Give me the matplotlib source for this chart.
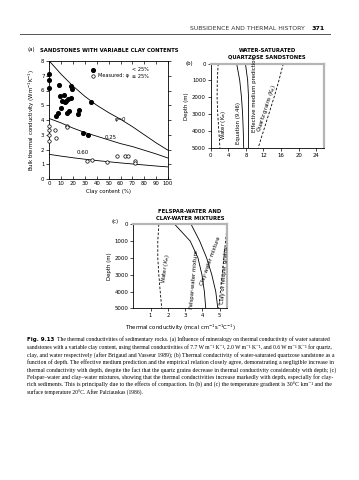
import numpy as np
import matplotlib.pyplot as plt

plt.rcParams['font.family'] = ['DejaVu Sans']

# --- (a) sandstones with variable clay content ---
clay_pct = [0, 10, 20, 30, 40, 50, 60, 70, 80, 90, 100]
k_phi0 = [8.0, 7.1, 6.3, 5.6, 5.0, 4.5, 4.05, 3.55, 3.0, 2.45, 1.95]
k_phi25 = [4.1, 3.8, 3.45, 3.15, 2.9, 2.65, 2.4, 2.2, 1.95, 1.7, 1.42]
k_phi60 = [1.67, 1.55, 1.44, 1.34, 1.25, 1.17, 1.09, 1.02, 0.95, 0.88, 0.82]

filled_x = [0, 0, 0, 8, 9, 11, 10, 14, 16, 18, 19, 6, 7, 12, 13, 15, 18, 17, 25, 24, 35, 28, 33]
filled_y = [7.1, 6.7, 6.2, 6.4, 5.6, 5.3, 4.8, 5.3, 5.4, 6.3, 6.1, 4.3, 4.5, 5.7, 5.2, 4.5, 5.5, 4.6, 4.7, 4.4, 5.2, 3.15, 2.95]
open_x = [0, 0, 0, 0, 5, 6, 15, 15, 32, 36, 49, 57, 64, 66, 72, 72]
open_y = [3.6, 3.3, 3.0, 2.55, 3.35, 2.8, 3.62, 3.5, 1.22, 1.27, 1.17, 1.55, 1.55, 1.55, 1.22, 1.1]

# --- (b) water-saturated quartzose sandstones ---
depth_b = [0, 1000, 2000, 3000, 4000, 5000]
kb_water = [1.7, 1.5, 1.45, 1.6, 1.85, 2.1]
kb_equation = [5.9, 6.6, 7.0, 7.25, 7.4, 7.5]
kb_effective = [7.9, 8.4, 8.6, 8.6, 8.6, 8.6]
kb_quartz = [16.5, 15.5, 14.4, 13.2, 12.0, 10.8]

# --- (c) felspar-water and clay-water mixtures ---
depth_c = [0, 1000, 2000, 3000, 4000, 5000]
kc_water = [1.48, 1.42, 1.42, 1.48, 1.56, 1.65]
kc_felspar = [2.4, 3.3, 3.75, 3.98, 4.12, 4.2]
kc_clay = [3.35, 3.85, 4.25, 4.55, 4.78, 4.9]
kc_grains = [5.45, 5.35, 5.25, 5.15, 5.05, 4.95]

W, H = 359, 480
fig = plt.figure(figsize=(W / 100, H / 100), dpi=100)

def box(l, r, t, b):
    return [l / W, 1 - b / H, (r - l) / W, (b - t) / H]

fs = 3.9
gray = '#b5b5b5'

# page header
fig.text(305 / W, 1 - 28 / H, 'SUBSIDENCE AND THERMAL HISTORY', ha='right', va='center',
         fontsize=4.4, color='#333333')
fig.text(325 / W, 1 - 28 / H, '371', ha='right', va='center', fontsize=4.6, fontweight='bold')
fig.add_artist(plt.Line2D([20 / W, 330 / W], [1 - 33.5 / H] * 2, color='#555555', lw=0.7))

# ---------- panel (a) ----------
ax = fig.add_axes(box(49.3, 168, 61, 179))
ax.plot(clay_pct, k_phi0, color='k', lw=0.6)
ax.plot(clay_pct, k_phi25, color='k', lw=0.6)
ax.plot(clay_pct, k_phi60, color='k', lw=0.6)
ax.scatter(filled_x, filled_y, s=7, color='k', zorder=3, clip_on=False)
ax.scatter(open_x, open_y, s=6, facecolor='white', edgecolor='k', lw=0.5, zorder=3, clip_on=False)
ax.scatter([37], [7.4], s=7, color='k', clip_on=False)
ax.scatter([37], [7.0], s=6, facecolor='white', edgecolor='k', lw=0.5, clip_on=False)
ax.text(41, 7.05, 'Measured: \u03c6', fontsize=3.6, va='center')
ax.text(70, 7.4, '< 25%', fontsize=3.6, va='center')
ax.text(70, 6.95, '\u2265 25%', fontsize=3.6, va='center')
ax.text(55, 4.0, '\u03c6=0', fontsize=fs, va='center')
ax.text(47, 2.8, '0.25', fontsize=fs, va='center')
ax.text(23, 1.78, '0.60', fontsize=fs, va='center')
ax.set_xlim(0, 100)
ax.set_ylim(0, 8)
ax.set_xticks(range(0, 101, 10))
ax.set_yticks(range(0, 9))
ax.tick_params(labelsize=fs, length=2, width=0.5, pad=1.5, top=True, right=True, direction='in')
ax.tick_params(axis='y', direction='out')
for s in ax.spines.values():
    s.set_linewidth(0.6)
ax.set_xlabel('Clay content (%)', fontsize=fs, labelpad=2)
ax.set_ylabel('Bulk thermal conductivity (Wm$^{-1}$K$^{-1}$)', fontsize=fs, labelpad=3)
fig.text(27 / W, 1 - 50 / H, '(a)', fontsize=fs, va='center')
fig.text(40 / W, 1 - 50 / H, 'SANDSTONES WITH VARIABLE CLAY CONTENTS', fontsize=3.75,
         fontweight='bold', va='center')

def depth_axes(ax, xmax, xticks):
    ax.set_xlim(0, xmax)
    ax.set_ylim(5000, 0)
    ax.set_xticks(xticks)
    ax.set_yticks(range(0, 5001, 1000))
    ax.tick_params(labelsize=fs, length=2, width=0.5, pad=1.5)
    ax.spines['left'].set_linewidth(0.6)
    ax.spines['bottom'].set_linewidth(0.6)
    for side in ('top', 'right'):
        ax.spines[side].set_color(gray)
        ax.spines[side].set_linewidth(1.6)
    ax.set_ylabel('Depth (m)', fontsize=fs, labelpad=2)

# ---------- panel (b) ----------
bx = fig.add_axes(box(210.7, 324, 63.7, 147.7))
bx.plot(kb_water, depth_b, 'k--', lw=0.6, dashes=(3, 2))
bx.plot(kb_equation, depth_b, 'k-', lw=0.6)
bx.plot(kb_effective, depth_b, 'k-', lw=0.6)
bx.plot(kb_quartz, depth_b, 'k--', lw=0.6, dashes=(3, 2))
depth_axes(bx, 25.75, range(0, 25, 4))
bx.text(2.8, 3650, 'Water (K$_w$)', rotation=90, fontsize=fs, ha='center', va='center')
bx.text(6.3, 3540, 'Equation (9.46)', rotation=90, fontsize=fs, ha='center', va='center')
bx.text(9.9, 1800, 'Effective medium prediction', rotation=90, fontsize=fs, ha='center', va='center')
bx.text(12.9, 2700, 'Quartz grains (K$_q$)', rotation=72, fontsize=fs, ha='center', va='center')
fig.text(185 / W, 1 - 63 / H, '(b)', fontsize=fs, va='center')
fig.text(267 / W, 1 - 54 / H, 'WATER-SATURATED\nQUARTZOSE SANDSTONES', fontsize=3.75,
         fontweight='bold', ha='center', va='center', linespacing=1.3)

# ---------- panel (c) ----------
cx = fig.add_axes(box(133.3, 227.3, 224.3, 308.3))
cx.plot(kc_water, depth_c, 'k--', lw=0.6, dashes=(3, 2))
cx.plot(kc_felspar, depth_c, 'k-', lw=0.6)
cx.plot(kc_clay, depth_c, 'k-', lw=0.6)
cx.plot(kc_grains, depth_c, 'k--', lw=0.6, dashes=(3, 2))
depth_axes(cx, 5.45, [1, 2, 3, 4, 5])
cx.set_xlabel('Thermal conductivity (mcal cm$^{-1}$s$^{-1}$C$^{-1}$)', fontsize=fs, labelpad=3)
cx.text(1.87, 2600, 'Water (K$_w$)', rotation=82, fontsize=fs, ha='center', va='center')
cx.text(3.55, 3300, 'Felspar-water mixture', rotation=85, fontsize=fs, ha='center', va='center')
cx.text(4.5, 2200, 'Clay-water mixture', rotation=70, fontsize=fs, ha='center', va='center')
cx.text(5.3, 3000, 'Clay or felspar grains', rotation=86, fontsize=fs, ha='center', va='center')
fig.text(111.7 / W, 1 - 222 / H, '(c)', fontsize=fs, va='center')
fig.text(190 / W, 1 - 215 / H, 'FELSPAR-WATER AND\nCLAY-WATER MIXTURES', fontsize=3.75,
         fontweight='bold', ha='center', va='center', linespacing=1.3)

# ---------- caption (each line fitted to the text block width) ----------
caption = [
    'The thermal conductivities of sedimentary rocks. (a) Influence of mineralogy on thermal conductivity of water saturated',
    'sandstones with a variable clay content, using thermal conductivities of 7.7 W m\u207b\u00b9 K\u207b\u00b9, 2.0 W m\u207b\u00b9 K\u207b\u00b9, and 0.6 W m\u207b\u00b9 K\u207b\u00b9 for quartz,',
    'clay, and water respectively (after Brigaud and Vasseur 1989); (b) Thermal conductivity of water-saturated quartzose sandstone as a',
    'function of depth. The effective medium prediction and the empirical relation closely agree, demonstrating a negligible increase in',
    'thermal conductivity with depth, despite the fact that the quartz grains decrease in thermal conductivity considerably with depth; (c)',
    'Felspar\u2013water and clay\u2013water mixtures, showing that the thermal conductivities increase markedly with depth, especially for clay-',
    'rich sediments. This is principally due to the effects of compaction. In (b) and (c) the temperature gradient is 30\u00b0C km\u207b\u00b9 and the',
    'surface temperature 20\u00b0C. After Palciauskas (1986).',
]
serif = ['Liberation Serif', 'DejaVu Serif']
renderer = fig.canvas.get_renderer()
left, right = 27.0, 330.0
y0 = 339.5
cap_fs = 4.0
for i, line in enumerate(caption):
    y = 1 - (y0 + i * 7.6) / H
    x = left
    if i == 0:
        tb = fig.text(x / W, y, 'Fig. 9.13', fontsize=4.0, fontweight='bold', va='center')
        x += tb.get_window_extent(renderer).width + 3
    t = fig.text(x / W, y, line, fontsize=cap_fs, family=serif, va='center')
    if i < len(caption) - 1:
        w = t.get_window_extent(renderer).width
        t.set_fontsize(cap_fs * (right - x) / w)

fig.savefig('out.png', dpi=100)
